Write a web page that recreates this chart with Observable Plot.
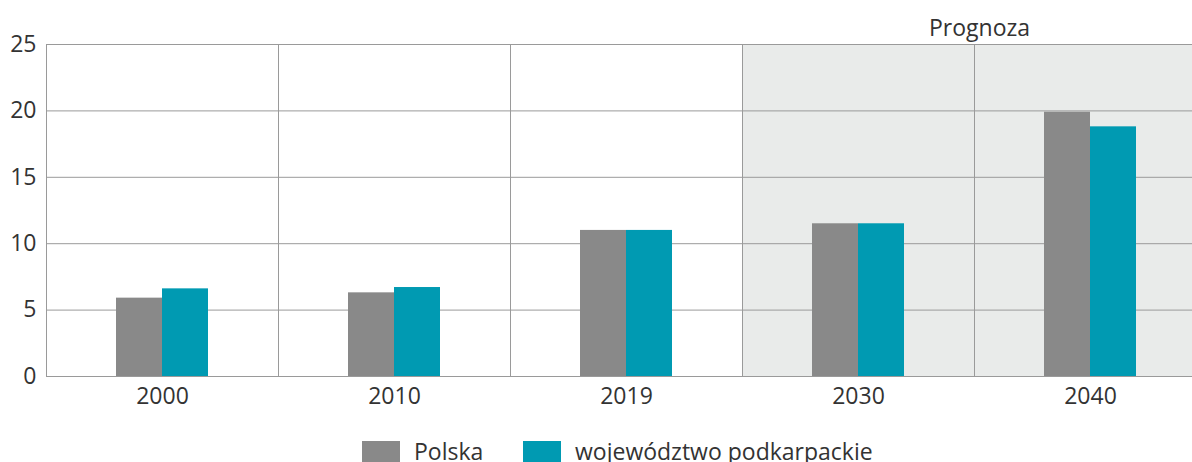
<!DOCTYPE html>
<html><head><meta charset="utf-8">
<script src="https://cdn.jsdelivr.net/npm/d3@7"></script>
<script src="https://cdn.jsdelivr.net/npm/@observablehq/plot@0.6"></script>
<style>
body{margin:0;background:#fff;font-family:"Open Sans",sans-serif;color:#333;}
#wrap{width:1192px;height:462px;overflow:hidden;position:relative;}
#chart svg{max-width:none !important;}
#legend{position:absolute;left:0;top:436px;font-size:23px;line-height:30px;color:#333;}
.sw{display:inline-block;width:38px;height:24px;margin-top:5px;}
.item{display:flex;align-items:flex-start;position:absolute;white-space:nowrap;}
</style></head><body>
<div id="wrap"><div id="chart"></div><div id="legend"></div></div>
<script>
const years = ["2000","2010","2019","2030","2040"];
const forecastYears = ["2030","2040"];
const seriesNames = ["Polska","województwo podkarpackie"];
const polska = [5.9, 6.3, 11.0, 11.5, 19.9];
const podkarpackie = [6.6, 6.7, 11.0, 11.5, 18.8];
const yTicks = [0,5,10,15,20,25];
const colors = ["#898989","#009ab2"];
const forecastLabel = "Prognoza";

const data = years.flatMap((y,i)=>[
  {year:y, series:seriesNames[0], value:polska[i]},
  {year:y, series:seriesNames[1], value:podkarpackie[i]}
]);

const chart = Plot.plot({
  width:1206, height:425,
  marginLeft:46, marginRight:0, marginTop:44, marginBottom:49,
  style:{fontFamily:"'Open Sans', sans-serif", fontSize:"23px", color:"#333", background:"transparent", overflow:"visible", maxWidth:"none"},
  fx:{domain:years, padding:0, label:null, axis:"bottom", tickSize:0, tickPadding:11},
  x:{domain:seriesNames, paddingInner:0, paddingOuter:1.5, axis:null},
  y:{domain:[0,25], ticks:yTicks, tickSize:0, tickPadding:10, label:null},
  color:{domain:seriesNames, range:colors},
  marks:[
    Plot.barY(forecastYears, {fx:d=>d, y1:0, y2:25, fill:"#e9ebea"}),
    Plot.gridY(yTicks, {stroke:"#9a9a9a", strokeOpacity:1}),
    Plot.frame({stroke:"#9a9a9a"}),
    Plot.barY(data, {fx:"year", x:"series", y:"value", fill:"series"}),
    Plot.text([forecastLabel], {fx:()=>"2040", text:d=>d, frameAnchor:"top-left", textAnchor:"middle", lineAnchor:"middle", dy:-16, dx:5, fontSize:23, fill:"#333"})
  ]
});
document.getElementById("chart").appendChild(chart);

const legend = document.getElementById("legend");
const lx = [362, 523];
seriesNames.forEach((s,i)=>{
  const it = document.createElement("div");
  it.className="item";
  it.style.left = lx[i]+"px";
  const sw = document.createElement("span");
  sw.className="sw"; sw.style.background = colors[i];
  const t = document.createElement("span");
  t.textContent = s; t.style.marginLeft = "14px";
  it.appendChild(sw); it.appendChild(t);
  legend.appendChild(it);
});
</script>
</body></html>
